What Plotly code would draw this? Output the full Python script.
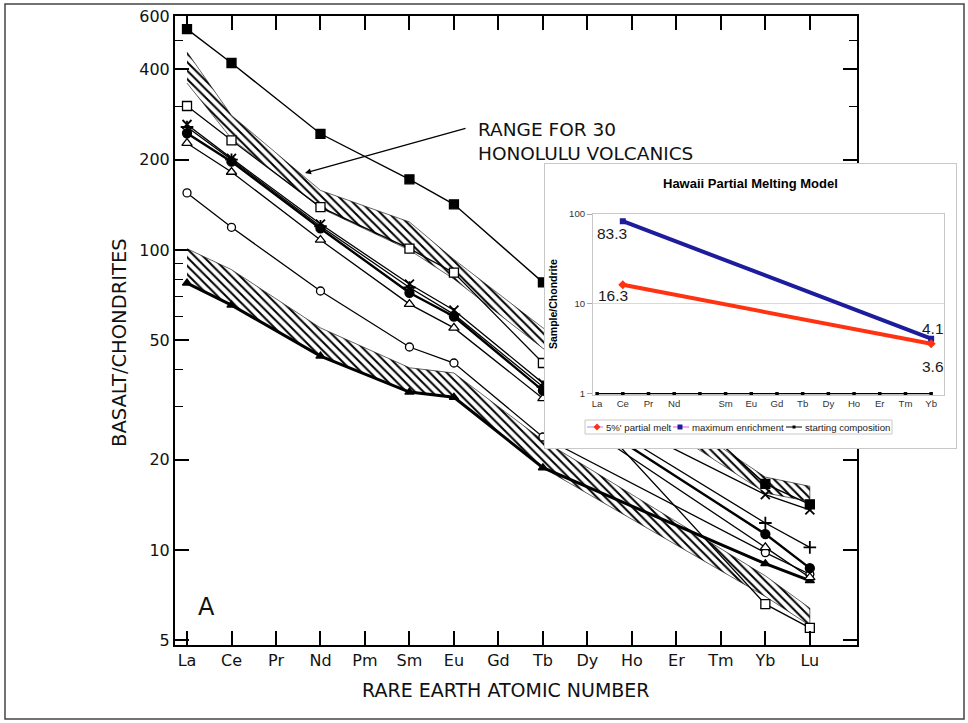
import math
import plotly.graph_objects as go

W, H = 968, 723

# ---------------- main chart data (basalt / chondrite) ----------------
REE = ["La", "Ce", "Pr", "Nd", "Pm", "Sm", "Eu", "Gd", "Tb", "Dy", "Ho", "Er", "Tm", "Yb", "Lu"]
N = None
s_fsq   = [545, 420, N, 244, N, 172, 142, N, 78, N, N, N, N, 16.6, 14.2]
s_osq   = [302, 232, N, 139, N, 101, 84, N, 42, N, N, N, N, 6.6, 5.5]
s_x     = [262, 202, N, 122, N, 77, 63, N, 36, N, N, N, N, 15.3, 13.6]
s_plus  = [257, 200, N, 120, N, 75, 61, N, 35, N, N, N, N, 12.3, 10.2]
s_fcirc = [245, 197, N, 118, N, 72, 60, N, 34, N, N, N, N, 11.3, 8.7]
s_otri  = [227, 182, N, 108, N, 66, 55, N, 32, N, N, N, N, 10.2, 8.1]
s_ocirc = [155, 119, N, 73, N, 47.5, 42, N, 23.8, N, N, N, N, 9.8, 8.3]
s_ftri  = [77.6, 65.5, N, 44.3, N, 33.6, 32.3, N, 18.8, N, N, N, N, 9.0, 7.9]

# hatched ranges
hon_hi = [457, 281, N, 158, N, 124, 93, N, 55, N, N, N, N, 17.5, 16.3]
hon_lo = [360, 235, N, 138, N, 100, 80, N, 47, N, N, N, N, 15.5, 14.5]
low_hi = [101, 86, N, 55, N, 40.5, 38.9, N, 23.2, N, N, N, N, 8.2, 6.4]
low_lo = [77.6, 65.5, N, 44.3, N, 33.6, 32.3, N, 18.8, N, N, N, N, 7.0, 5.6]

Y_TICKS = [5, 10, 20, 50, 100, 200, 400, 600]
Y_MINOR = [30, 40, 60, 70, 80, 90, 300, 500]

# ---------------- inset data ----------------
INSET_CATS = ["La", "Ce", "Pr", "Nd", " ", "Sm", "Eu", "Gd", "Tb", "Dy", "Ho", "Er", "Tm", "Yb"]
partial_melt = [N, 16.3, N, N, N, N, N, N, N, N, N, N, N, 3.6]
max_enrich   = [N, 83.3, N, N, N, N, N, N, N, N, N, N, N, 4.1]
start_comp   = [1, 1, 1, 1, 1, 1, 1, 1, 1, 1, 1, 1, 1, 1]
INSET_NAMES = ["5%' partial melt", "maximum enrichment", "starting composition"]


def px(x):
    return x / W


def py(y):
    return 1 - y / H


FONT = "DejaVu Sans"
IFONT = "Liberation Sans"

fig = go.Figure()


def band(hi, lo):
    idx = [i for i, v in enumerate(hi) if v is not None]
    xs = [REE[i] for i in idx] + [REE[i] for i in reversed(idx)]
    ys = [hi[i] for i in idx] + [lo[i] for i in reversed(idx)]
    return xs, ys


for hi, lo in [(hon_hi, hon_lo), (low_hi, low_lo)]:
    bx, by = band(hi, lo)
    fig.add_trace(go.Scatter(
        x=bx, y=by, mode="lines", fill="toself", fillcolor="white",
        fillpattern=dict(shape="\\", fgcolor="black", bgcolor="white", size=6, solidity=0.33),
        line=dict(width=0.6, color="black"), showlegend=False, hoverinfo="skip",
        xaxis="x", yaxis="y"))


def series(y, symbol, size, mcolor, lw, mlw=1.3):
    fig.add_trace(go.Scatter(
        x=REE, y=y, mode="lines+markers", connectgaps=True,
        line=dict(color="black", width=lw),
        marker=dict(symbol=symbol, size=size, color=mcolor,
                    line=dict(color="black", width=mlw)),
        showlegend=False, xaxis="x", yaxis="y"))


series(s_ftri, "triangle-up", 8, "black", 3.0)
series(s_ocirc, "circle", 8, "white", 1.3)
series(s_otri, "triangle-up", 9, "white", 1.3)
series(s_plus, "cross-thin-open", 9, "black", 1.3, 1.8)
series(s_fcirc, "circle", 9, "black", 2.4)
series(s_x, "x-thin-open", 9, "black", 1.3, 1.8)
series(s_osq, "square", 9, "white", 1.3)
series(s_fsq, "square", 9, "black", 1.4)

# cover panel for inset (subplot 2)
fig.add_trace(go.Scatter(x=[], y=[], xaxis="x2", yaxis="y2", showlegend=False, hoverinfo="skip"))

# inset traces (subplot 3)
fig.add_trace(go.Scatter(
    x=INSET_CATS, y=start_comp, mode="lines+markers", name=INSET_NAMES[2],
    line=dict(color="black", width=1.5), marker=dict(symbol="square", size=3.5, color="black"),
    cliponaxis=False, showlegend=False, xaxis="x3", yaxis="y3"))
fig.add_trace(go.Scatter(
    x=INSET_CATS, y=max_enrich, mode="lines+markers", connectgaps=True, name=INSET_NAMES[1],
    line=dict(color="#1c1c9c", width=4), marker=dict(symbol="square", size=6, color="#1c1c9c"),
    showlegend=False, xaxis="x3", yaxis="y3"))
fig.add_trace(go.Scatter(
    x=INSET_CATS, y=partial_melt, mode="lines+markers", connectgaps=True, name=INSET_NAMES[0],
    line=dict(color="#ff3311", width=4), marker=dict(symbol="diamond", size=7, color="#ff3311"),
    showlegend=False, xaxis="x3", yaxis="y3"))

annotations = []
# data labels on inset
for val, cat, xs, ys in [(max_enrich[1], INSET_CATS[1], -11, -12),
                         (partial_melt[1], INSET_CATS[1], -10, -11),
                         (max_enrich[13], INSET_CATS[13], 2, 10),
                         (partial_melt[13], INSET_CATS[13], 2, -23)]:
    annotations.append(dict(x=cat, y=math.log10(val), xref="x3", yref="y3", text=f"{val}",
                            showarrow=False, xshift=xs, yshift=ys,
                            xanchor="center", yanchor="middle",
                            font=dict(family=IFONT, size=15.5, color="#1a1a1a")))


def label(x, y, text, size, family=FONT, xanchor="center", angle=0, color="#111", align="center"):
    return dict(x=px(x), y=py(y), xref="paper", yref="paper", text=text, showarrow=False,
                xanchor=xanchor, yanchor="middle", textangle=angle, align=align,
                font=dict(family=family, size=size, color=color))


annotations += [
    label(476, 142, "RANGE FOR 30<br>HONOLULU VOLCANICS", 18.5, xanchor="left", align="left"),
    dict(x=px(305), y=py(173), xref="paper", yref="paper", text="", showarrow=True,
         ax=162, ay=-45, arrowhead=2, arrowsize=1, arrowwidth=1.2, arrowcolor="black"),
    label(206, 607, "A", 24),
    label(506, 690, "RARE EARTH ATOMIC NUMBER", 19),
    label(119, 343, "BASALT/CHONDRITES", 19.5, angle=-90),
    label(750, 183, "<b>Hawaii Partial Melting Model</b>", 13, family=IFONT, color="black"),
    label(553, 304, "<b>Sample/Chondrite</b>", 10.5, family=IFONT, angle=-90, color="black"),
]
# manual inset legend texts
for name, xl in zip(INSET_NAMES, [604, 690, 803]):
    annotations.append(label(xl, 427, name, 9.6, family=IFONT, xanchor="left", color="#1a1a1a"))

shapes = [
    dict(type="rect", xref="paper", yref="paper", x0=px(5), x1=px(964), y0=py(719), y1=py(4),
         line=dict(color="#444", width=1.5), layer="below"),
    # legend box
    dict(type="rect", xref="paper", yref="paper", x0=px(585), x1=px(892), y0=py(434), y1=py(420),
         line=dict(color="#c8c8c8", width=1), fillcolor="white", layer="above"),
    dict(type="line", xref="paper", yref="paper", x0=px(587), x1=px(603), y0=py(427), y1=py(427),
         line=dict(color="#9a8cff", width=1), layer="above"),
    dict(type="path", xref="paper", yref="paper", layer="above", fillcolor="#ff3311",
         line=dict(width=0),
         path=f"M {px(597)},{py(423.5)} L {px(600.5)},{py(427)} L {px(597)},{py(430.5)} L {px(593.5)},{py(427)} Z"),
    dict(type="line", xref="paper", yref="paper", x0=px(673), x1=px(689), y0=py(427), y1=py(427),
         line=dict(color="#ff44ff", width=1), layer="above"),
    dict(type="rect", xref="paper", yref="paper", x0=px(677.5), x1=px(682.5), y0=py(429.5), y1=py(424.5),
         fillcolor="#1c1c9c", line=dict(width=0), layer="above"),
    dict(type="line", xref="paper", yref="paper", x0=px(786), x1=px(802), y0=py(427), y1=py(427),
         line=dict(color="black", width=1), layer="above"),
    dict(type="rect", xref="paper", yref="paper", x0=px(792.5), x1=px(795.5), y0=py(428.5), y1=py(425.5),
         fillcolor="black", line=dict(width=0), layer="above"),
]

fig.update_layout(
    width=W, height=H, template="none",
    margin=dict(l=0, r=0, t=0, b=0),
    paper_bgcolor="white", plot_bgcolor="white",
    showlegend=False,
    annotations=annotations, shapes=shapes,
    xaxis=dict(domain=[px(175), px(857)], anchor="y", type="category",
               categoryorder="array", categoryarray=REE, range=[-0.27, 15.06],
               showline=True, linecolor="black", linewidth=2, mirror="ticks",
               ticks="inside", ticklen=14, tickwidth=1.5, tickcolor="black",
               showgrid=False, zeroline=False, tickangle=0,
               tickfont=dict(family=FONT, size=16, color="#111")),
    yaxis=dict(domain=[py(645), py(16)], anchor="x", type="log", range=[0.6833, 2.78],
               tickmode="array", tickvals=Y_TICKS, ticktext=[str(v) for v in Y_TICKS],
               showline=True, linecolor="black", linewidth=2, mirror="ticks",
               ticks="inside", ticklen=14, tickwidth=1.5, tickcolor="black",
               minor=dict(tickmode="array", tickvals=Y_MINOR, ticks="inside", ticklen=8,
                          tickwidth=1.3, tickcolor="black", showgrid=False),
               showgrid=False, zeroline=False,
               tickfont=dict(family=FONT, size=16, color="#111")),
    xaxis2=dict(domain=[px(545), px(956)], anchor="y2", range=[0, 1], showline=True, mirror=True,
                linecolor="#c8c8c8", linewidth=1, showticklabels=False, ticks="",
                showgrid=False, zeroline=False, fixedrange=True),
    yaxis2=dict(domain=[py(448), py(164)], anchor="x2", range=[0, 1], showline=True, mirror=True,
                linecolor="#c8c8c8", linewidth=1, showticklabels=False, ticks="",
                showgrid=False, zeroline=False, fixedrange=True),
    xaxis3=dict(domain=[px(593), px(944)], anchor="y3", type="category",
                categoryorder="array", categoryarray=INSET_CATS, range=[-0.16, 13.5],
                showline=True, mirror=True, linecolor="#c8c8c8", linewidth=1,
                ticks="", showgrid=False, zeroline=False, tickangle=0,
                tickfont=dict(family=IFONT, size=9.6, color="#333")),
    yaxis3=dict(domain=[py(394.5), py(214)], anchor="x3", type="log", range=[-0.008, 2],
                tickmode="array", tickvals=[1, 10, 100], ticktext=["1", "10", "100"],
                showline=True, mirror=True, linecolor="#c8c8c8", linewidth=1,
                ticks="outside", ticklen=5, tickcolor="#aaaaaa",
                showgrid=True, gridcolor="#d9d9d9", gridwidth=1, zeroline=False,
                tickfont=dict(family=IFONT, size=9.6, color="#333")),
)

fig.write_html("out.html")
